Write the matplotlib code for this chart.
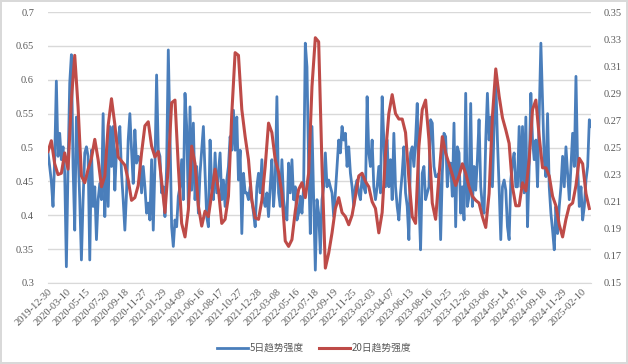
import numpy as np
import matplotlib
matplotlib.use('Agg')
from matplotlib import pyplot as plt

# 日期刻度（每45个交易日一个标签）
tick_labels = ['2019-12-30', '2020-03-10', '2020-05-15', '2020-07-20', '2020-09-18',
               '2020-11-27', '2021-01-29', '2021-04-09', '2021-06-16', '2021-08-17',
               '2021-10-27', '2021-12-28', '2022-03-08', '2022-05-16', '2022-07-18',
               '2022-09-19', '2022-11-25', '2023-02-03', '2023-04-07', '2023-06-13',
               '2023-08-16', '2023-10-25', '2023-12-26', '2024-03-06', '2024-05-14',
               '2024-07-16', '2024-09-18', '2024-11-29', '2025-02-10']
tick_step = 45
last_day = 1283

# 5日趋势强度（左轴），约每4个交易日取一个读数
trend5 = [
    0.492, 0.472, 0.450, 0.413, 0.482, 0.598, 0.487, 0.521, 0.482, 0.501,
    0.462, 0.324, 0.472, 0.595, 0.637, 0.472, 0.378, 0.545, 0.496, 0.423,
    0.334, 0.423, 0.492, 0.501, 0.487, 0.334, 0.496, 0.413, 0.442, 0.364,
    0.423, 0.447, 0.423, 0.550, 0.398, 0.496, 0.413, 0.531, 0.472, 0.531,
    0.437, 0.496, 0.511, 0.531, 0.462, 0.423, 0.378, 0.433, 0.511, 0.550,
    0.496, 0.447, 0.526, 0.477, 0.487, 0.482, 0.433, 0.472, 0.442, 0.403,
    0.418, 0.393, 0.482, 0.378, 0.472, 0.607, 0.496, 0.487, 0.433, 0.442,
    0.398, 0.472, 0.644, 0.521, 0.383, 0.354, 0.393, 0.383, 0.428, 0.442,
    0.482, 0.423, 0.580, 0.531, 0.413, 0.560, 0.437, 0.536, 0.423, 0.472,
    0.403, 0.462, 0.496, 0.531, 0.462, 0.398, 0.383, 0.511, 0.442, 0.423,
    0.492, 0.433, 0.462, 0.492, 0.423, 0.452, 0.413, 0.452, 0.472, 0.516,
    0.496, 0.555, 0.496, 0.545, 0.452, 0.496,
    0.373, 0.462, 0.433, 0.433, 0.423, 0.442, 0.423, 0.403, 0.383, 0.442,
    0.462, 0.433, 0.482, 0.423, 0.413, 0.433, 0.398, 0.442, 0.482, 0.413,
    0.452, 0.575, 0.433, 0.413, 0.482, 0.423, 0.403, 0.393, 0.477, 0.433,
    0.482, 0.423, 0.442, 0.393, 0.403, 0.428, 0.403, 0.442, 0.654, 0.619,
    0.472, 0.373, 0.531, 0.423, 0.319, 0.423, 0.403, 0.344, 0.423, 0.442,
    0.492, 0.442, 0.452, 0.442, 0.433, 0.398, 0.433, 0.472, 0.511, 0.492,
    0.531, 0.511, 0.521, 0.472, 0.501, 0.462, 0.442, 0.413, 0.442, 0.452,
    0.433, 0.423, 0.457, 0.442, 0.433, 0.575, 0.492, 0.472, 0.511, 0.442,
    0.423, 0.442, 0.472, 0.433, 0.575, 0.511, 0.442, 0.511, 0.442, 0.482,
    0.423, 0.521, 0.442, 0.413, 0.393, 0.433, 0.462, 0.501, 0.433, 0.413,
    0.364, 0.492, 0.501, 0.472, 0.511, 0.565, 0.423,
    0.349, 0.462, 0.472, 0.423, 0.433, 0.442, 0.541, 0.536, 0.472, 0.457,
    0.457, 0.462, 0.364, 0.462, 0.521, 0.516, 0.442, 0.472, 0.477, 0.428,
    0.536, 0.383, 0.501, 0.492, 0.403, 0.442, 0.393, 0.580, 0.413, 0.428,
    0.565, 0.413, 0.472, 0.437, 0.482, 0.541, 0.442, 0.413, 0.403, 0.511,
    0.580, 0.511, 0.545, 0.442, 0.531, 0.600, 0.511, 0.442, 0.364, 0.442,
    0.452, 0.437, 0.383, 0.364, 0.452, 0.477, 0.492, 0.442, 0.442, 0.531,
    0.442, 0.531, 0.433, 0.545, 0.383, 0.472, 0.580, 0.511, 0.482, 0.511,
    0.442, 0.550, 0.654, 0.570, 0.482, 0.457, 0.550, 0.442, 0.403, 0.378,
    0.349, 0.413, 0.373, 0.413, 0.442, 0.487, 0.442, 0.501, 0.462, 0.423,
    0.472, 0.521, 0.472, 0.605, 0.472, 0.413, 0.442, 0.393, 0.413, 0.452,
    0.472, 0.541, 0.531,
]

# 20日趋势强度（右轴），约每8个交易日取一个读数
trend20 = [
    0.247, 0.255, 0.238, 0.230, 0.231, 0.246, 0.234, 0.285, 0.318, 0.280,
    0.229, 0.224, 0.234, 0.242, 0.256, 0.241, 0.221, 0.229, 0.266, 0.286,
    0.267, 0.243, 0.240, 0.237, 0.226, 0.211, 0.213, 0.222, 0.246, 0.266,
    0.269, 0.251, 0.243, 0.247, 0.225, 0.202, 0.236, 0.283, 0.285, 0.236,
    0.194, 0.184, 0.204, 0.251, 0.238, 0.207, 0.192, 0.203, 0.199, 0.216,
    0.234, 0.219, 0.194, 0.197, 0.214, 0.275, 0.320, 0.318,
    0.278, 0.258, 0.241, 0.211, 0.198, 0.197, 0.211, 0.236, 0.268, 0.261,
    0.241, 0.232, 0.216, 0.181, 0.177, 0.182, 0.203, 0.219, 0.224, 0.213,
    0.231, 0.295, 0.331, 0.328, 0.236, 0.161, 0.172, 0.187, 0.205, 0.213,
    0.202, 0.199, 0.193, 0.200, 0.214, 0.229, 0.231, 0.225, 0.221, 0.210,
    0.205, 0.187, 0.202, 0.245, 0.275, 0.289, 0.275, 0.271, 0.271, 0.261,
    0.227, 0.199, 0.194, 0.251,
    0.278, 0.285, 0.256, 0.209, 0.197, 0.229, 0.258, 0.246, 0.238, 0.230,
    0.222, 0.229, 0.238, 0.231, 0.221, 0.214, 0.211, 0.209, 0.199, 0.191,
    0.216, 0.273, 0.308, 0.288, 0.272, 0.263, 0.253, 0.221, 0.207, 0.207,
    0.224, 0.218, 0.241, 0.278, 0.285, 0.258, 0.235, 0.235, 0.229, 0.214,
    0.207, 0.193, 0.184, 0.197, 0.207, 0.209, 0.222, 0.242, 0.238, 0.216,
    0.205,
]

blue = '#4a7ebb'
red = '#be4b48'
num_font = 'Liberation Serif'
cjk_font = ['Noto Sans CJK SC', 'DejaVu Sans']

step = last_day / (len(trend5) - 1)
x5 = np.arange(len(trend5)) * step
x20 = np.arange(len(trend20)) * step * 2

fig = plt.figure(figsize=(6.28, 3.64), dpi=100)
fig.patch.set_edgecolor('#d9d9d9')
fig.patch.set_linewidth(1.5)
ax = fig.add_axes([48 / 628, 81 / 364, 543 / 628, 271 / 364])
ax2 = ax.twinx()

l1, = ax.plot(x5, trend5, color=blue, lw=2.0, label='5日趋势强度', zorder=3)
l2, = ax2.plot(x20, trend20, color=red, lw=2.2, label='20日趋势强度', zorder=4)

ax.set_xlim(0, last_day)
ax.set_ylim(0.3, 0.7)
ax2.set_ylim(0.15, 0.35)
ax.set_yticks(np.arange(0.3, 0.701, 0.05))
ax.set_yticklabels(['%g' % round(v, 2) for v in np.arange(0.3, 0.701, 0.05)])
ax2.set_yticks(np.arange(0.15, 0.351, 0.02))
ax2.set_yticklabels(['%.2f' % v for v in np.arange(0.15, 0.351, 0.02)])
ax.set_xticks(np.arange(len(tick_labels)) * tick_step)
ax.set_xticklabels(tick_labels, rotation=45, ha='right', va='top',
                   rotation_mode='anchor')

ax.grid(axis='y', color='#d9d9d9', lw=1)
ax.set_axisbelow(True)
for a in (ax, ax2):
    for s in a.spines.values():
        s.set_visible(False)
    a.tick_params(length=0, colors='#595959', labelsize=7.5)
    for t in a.get_xticklabels() + a.get_yticklabels():
        t.set_fontfamily(num_font)
ax.spines['bottom'].set_visible(True)
ax.spines['bottom'].set_color('#d9d9d9')
ax.tick_params(axis='y', pad=10)
ax2.tick_params(axis='y', pad=9)
ax.tick_params(axis='x', pad=3)

leg = fig.legend(handles=[l1, l2], loc='center', bbox_to_anchor=(0.5, 1 - 348 / 364),
                 ncol=2, frameon=False, prop={'family': cjk_font, 'size': 7},
                 handlelength=3.2, columnspacing=1.5, handletextpad=0.2)
for t in leg.get_texts():
    t.set_color('#595959')

plt.savefig('out.png', dpi=100)
